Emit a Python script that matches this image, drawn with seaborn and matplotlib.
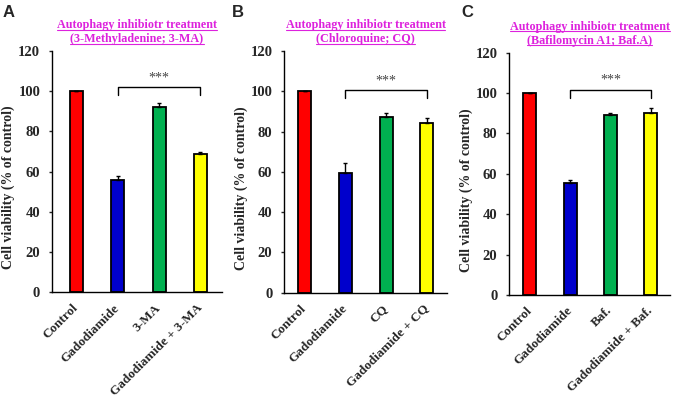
import numpy as np
import pandas as pd
import seaborn as sns
import matplotlib.pyplot as plt
from matplotlib.lines import Line2D

# data
panels = ['A', 'B', 'C']
inhibitor_names = ['(3-Methyladenine; 3-MA)', '(Chloroquine; CQ)', '(Bafilomycin A1; Baf.A)']
groups_a = ['Control', 'Gadodiamide', '3-MA', 'Gadodiamide + 3-MA']
groups_b = ['Control', 'Gadodiamide', 'CQ', 'Gadodiamide + CQ']
groups_c = ['Control', 'Gadodiamide', 'Baf.', 'Gadodiamide + Baf.']
mean_a = [100, 55.8, 92.3, 68.6]
mean_b = [100, 59.3, 87.4, 84.3]
mean_c = [100, 55.6, 89.0, 90.3]
err_a = [0, 2.2, 1.7, 1.0]
err_b = [0, 5.0, 2.0, 2.3]
err_c = [0, 1.3, 1.3, 2.2]
bracket_y = [102, 100.5, 101.5]
sig_text = '***'

bar_colors = ['#FF0000', '#0000CC', '#00B050', '#FFFF00']
title_color = '#DD22DD'

sns.set_style('white')
plt.rcParams['font.family'] = ['Liberation Serif', 'DejaVu Serif']
plt.rcParams['font.weight'] = 'bold'

W, H = 677, 401
fig = plt.figure(figsize=(W / 100, H / 100), dpi=100)

# axes boxes in pixels: left, right, top(y=120), bottom(y=0)
boxes = [(52, 222, 51, 292.3), (284.3, 446.7, 51, 292.7), (509.3, 670, 52.7, 295)]
xlims = [(-0.59, 3.52), (-0.5, 3.49), (-0.51, 3.48)]
letter_x = [3, 232, 461]

all_groups = [groups_a, groups_b, groups_c]
all_means = [mean_a, mean_b, mean_c]
all_errs = [err_a, err_b, err_c]

title_texts = []
for i in range(3):
    l, r, t, b = boxes[i]
    ax = fig.add_axes([l / W, 1 - b / H, (r - l) / W, (b - t) / H])
    df = pd.DataFrame({'group': all_groups[i], 'value': all_means[i]})
    sns.barplot(data=df, x='group', y='value', hue='group', palette=bar_colors,
                saturation=1, width=0.32, edgecolor='black', linewidth=1.3,
                legend=False, ax=ax, errorbar=None)
    x = np.arange(len(all_groups[i]))
    ax.errorbar(x, all_means[i], yerr=[np.zeros(4), all_errs[i]], fmt='none',
                ecolor='black', elinewidth=1.0, capsize=1.6, capthick=1.0, zorder=1)
    ax.set_ylim(0, 120)
    ax.set_xlim(*xlims[i])
    ax.set_yticks(range(0, 121, 20))
    ax.set_xlabel('')
    ax.set_ylabel('')
    sns.despine(ax=ax)
    for s in ['left', 'bottom']:
        ax.spines[s].set_color('black')
        ax.spines[s].set_linewidth(1.0)
    ax.tick_params(axis='y', direction='out', length=2.5, width=1, pad=6,
                   labelsize=10.5, left=True)
    ax.tick_params(axis='x', length=0, pad=10, labelsize=9.5)
    for lab in ax.get_xticklabels():
        lab.set_rotation(45)
        lab.set_ha('right')
        lab.set_va('center')
        lab.set_rotation_mode('anchor')
        lab.set_fontweight('bold')
    for lab in ax.get_yticklabels():
        lab.set_fontweight('bold')

    # significance bracket from Gadodiamide to the combination
    by = bracket_y[i]
    ax.plot([1, 1, 3, 3], [by - 4, by, by, by - 4], color='black', lw=1.0)
    ax.text(2, by + 1.5, sig_text, ha='center', va='bottom', fontsize=10,
            color='#444444', fontweight='normal')

    # y label
    fig.text((l - 43.5) / W, 1 - ((t + b) / 2 + 16) / H, 'Cell viability (% of control)',
             rotation=90, ha='center', va='center', fontsize=10, fontweight='bold')

    # panel letter
    fig.text(letter_x[i] / W, 1 - 5 / H, panels[i], ha='left', va='top', fontsize=12,
             fontweight='bold', family=['Liberation Sans', 'DejaVu Sans'])

    # two-line underlined title
    cx = ((l + r) / 2) / W
    t1 = fig.text(cx, 1 - (t - 26) / H, 'Autophagy inhibiotr treatment', ha='center',
                  va='center', fontsize=8.7, fontweight='bold', color=title_color)
    t2 = fig.text(cx, 1 - (t - 12) / H, inhibitor_names[i], ha='center',
                  va='center', fontsize=8.7, fontweight='bold', color=title_color)
    title_texts += [t1, t2]

fig.canvas.draw()
renderer = fig.canvas.get_renderer()
for tt in title_texts:
    bb = tt.get_window_extent(renderer)
    yy = bb.y0 + 1.5
    fig.add_artist(Line2D([bb.x0 / W, bb.x1 / W], [yy / H, yy / H],
                          transform=fig.transFigure, color=title_color, lw=0.8))

fig.savefig('out.png', dpi=100)
